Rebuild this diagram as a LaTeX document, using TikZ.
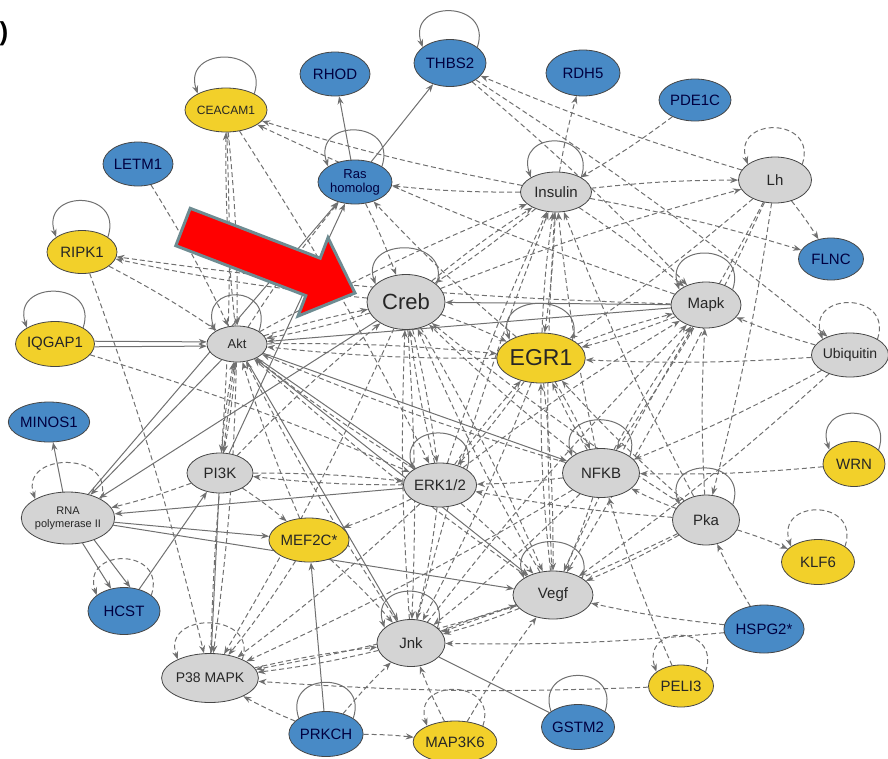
\documentclass[tikz,border=0pt]{standalone}
\usepackage{fontspec}
\setmainfont{Liberation Sans}
\usetikzlibrary{shapes.geometric,arrows.meta}
\pgfdeclarelayer{background}
\pgfsetlayers{background,main}
\definecolor{nodeblue}{RGB}{72,138,198}
\definecolor{nodeyellow}{RGB}{242,208,42}
\definecolor{nodegray}{RGB}{212,212,212}
\definecolor{edgegray}{RGB}{112,112,112}
\definecolor{arrowedge}{RGB}{110,140,146}
\tikzset{
  gene/.style={ellipse, draw=gray!55!black, line width=0.8pt, inner sep=0pt,
    minimum width=70pt, minimum height=44pt, font=\fontsize{15}{15}\selectfont, text=black!85},
  bluegene/.style={gene, fill=nodeblue, text=blue!25!black},
  yellowgene/.style={gene, fill=nodeyellow},
  graygene/.style={gene, fill=nodegray},
  act/.style={draw=edgegray, line width=1pt, -{Stealth[length=8pt,width=6pt]}},
  dep/.style={act, dash pattern=on 5pt off 3pt},
  plain/.style={draw=edgegray, line width=1pt},
  arrowbody/.style={fill=red, draw=arrowedge, line width=3pt, line join=miter}
}

\begin{document}
\begin{tikzpicture}[x=1pt,y=-1pt]
\useasboundingbox (0,0) rectangle (888,758);
\node[font=\bfseries\fontsize{26}{26}\selectfont] (mark) at (4,34) {)};

\node[yellowgene, minimum width=65pt, font=\fontsize{12}{12}\selectfont] (ceacam) at (226,110) {CEACAM1};
\node[bluegene] (rhod) at (335,74) {RHOD};
\node[bluegene, minimum width=72pt, minimum height=47pt] (thbs) at (450,63) {THBS2};
\node[bluegene, minimum width=74pt, minimum height=46pt] (rdh) at (583,73) {RDH5};
\node[bluegene, minimum width=72pt, minimum height=42pt] (pde) at (695,100) {PDE1C};
\node[bluegene] (letm) at (138,164) {LETM1};
\node[bluegene, minimum width=74pt, align=center, font=\fontsize{13}{14}\selectfont] (ras) at (355,182) {Ras\\homolog};
\node[graygene, minimum width=71pt, minimum height=40pt] (insulin) at (556,192) {Insulin};
\node[graygene, minimum width=73pt, minimum height=46pt] (lh) at (775,180) {Lh};
\node[bluegene, minimum width=65pt, minimum height=42pt] (flnc) at (831,259) {FLNC};
\node[yellowgene, minimum height=43pt] (ripk) at (82,252) {RIPK1};
\node[graygene, minimum width=78pt, minimum height=55pt, font=\fontsize{22}{22}\selectfont] (creb) at (406,302) {Creb};
\node[graygene, minimum height=46pt] (mapk) at (706,305) {Mapk};
\node[yellowgene, minimum width=74pt, minimum height=45pt] (iqgap) at (55,344) {IQGAP1};
\node[graygene, minimum width=60pt, minimum height=36pt, font=\fontsize{13}{13}\selectfont] (akt) at (237,344) {Akt};
\node[yellowgene, minimum width=85pt, minimum height=50pt, font=\fontsize{23}{23}\selectfont] (egr) at (541,358) {EGR1};
\node[graygene, minimum width=76pt, minimum height=44pt, font=\fontsize{14}{14}\selectfont] (ubq) at (850,355) {Ubiquitin};
\node[bluegene, minimum width=68pt, minimum height=40pt] (minos) at (49,422) {MINOS1};
\node[yellowgene, minimum width=62pt, minimum height=45pt] (wrn) at (854,464) {WRN};
\node[graygene, minimum width=66pt, minimum height=40pt] (pik) at (220,473) {PI3K};
\node[graygene, minimum width=66pt, minimum height=44pt] (erk) at (440,485) {ERK1/2};
\node[graygene, minimum width=77pt, minimum height=49pt] (nfkb) at (601,473) {NFKB};
\node[graygene, minimum width=87pt, minimum height=52pt, align=center, font=\fontsize{11}{13}\selectfont] (rnapol) at (68,518) {RNA\\polymerase II};
\node[graygene, minimum width=67pt, minimum height=50pt] (pka) at (706,520) {Pka};
\node[yellowgene, minimum width=65pt, minimum height=44pt] (mef) at (309,540) {MEF2C*};
\node[yellowgene, minimum width=73pt, minimum height=45pt] (klf) at (818,562) {KLF6};
\node[bluegene, minimum width=72pt, minimum height=47pt] (hcst) at (124,611) {HCST};
\node[graygene, minimum width=80pt, minimum height=48pt] (vegf) at (553,595) {Vegf};
\node[bluegene, minimum width=66pt, minimum height=48pt] (hspg) at (764,629) {HSPG2*};
\node[graygene, minimum width=68pt, minimum height=47pt] (jnk) at (411,643) {Jnk};
\node[graygene, minimum width=75pt, minimum height=49pt, font=\fontsize{14}{14}\selectfont] (pmapk) at (210,678) {P38 MAPK};
\node[yellowgene, minimum width=65pt, minimum height=42pt] (peli) at (681,686) {PELI3};
\node[bluegene, minimum width=72pt, minimum height=45pt] (prkch) at (326,734) {PRKCH};
\node[yellowgene, minimum width=70pt, minimum height=42pt] (mapkk) at (455,742) {MAP3K6};
\node[bluegene, minimum width=69pt, minimum height=45pt] (gstm) at (578,727) {GSTM2};

\begin{pgfonlayer}{background}
\foreach \a/\b in {insulin/ceacam, mapk/ceacam, ceacam/akt, akt/ceacam, ceacam/pik, ceacam/erk,
    letm/akt, insulin/ras, lh/thbs, thbs/mapk, thbs/ubq, insulin/rdh, pde/insulin, insulin/lh,
    insulin/flnc, lh/flnc, creb/lh, lh/pka, lh/vegf, lh/egr, lh/nfkb, ubq/egr, ubq/mapk, ubq/nfkb,
    ubq/vegf, insulin/mapk, insulin/creb, ras/creb, akt/ras, egr/ras,
    egr/insulin, nfkb/insulin, vegf/insulin, akt/insulin, creb/insulin, erk/insulin, jnk/insulin, pka/insulin,
    creb/egr, akt/egr, mapk/egr, erk/egr, nfkb/egr, pka/egr, vegf/egr, insulin/egr,
    pka/mapk, nfkb/mapk, erk/mapk, vegf/mapk, jnk/mapk, egr/mapk,
    akt/creb, erk/creb, nfkb/creb, pka/creb, pik/creb, jnk/creb, vegf/creb,
    creb/ripk, mapk/ripk, ripk/akt, ripk/pmapk, iqgap/erk,
    akt/pik, pik/akt, pmapk/akt, mef/akt, jnk/akt, erk/akt, vegf/akt, nfkb/akt, creb/akt, egr/akt,
    pik/rnapol, jnk/pmapk, erk/pmapk, mef/pmapk, vegf/pmapk, nfkb/pmapk, creb/pmapk, akt/pmapk,
    prkch/pmapk, peli/pmapk, prkch/jnk, prkch/mapkk, mapkk/jnk, mapkk/vegf,
    peli/nfkb, hspg/jnk, hspg/vegf, hspg/pka, pka/klf, wrn/nfkb,
    pka/nfkb, pka/vegf, pka/erk, pka/jnk, nfkb/vegf, nfkb/erk, nfkb/jnk,
    vegf/jnk, jnk/vegf, erk/vegf, erk/jnk, pik/erk, erk/pik, erk/mef, mef/jnk, pik/mef,
    creb/jnk, creb/vegf, creb/erk, egr/vegf, egr/nfkb, egr/jnk, egr/erk, pmapk/jnk}
  \draw[dep] (\a) to[bend left=3] (\b);
\foreach \a/\b in {ras/rhod, ras/thbs, mapk/creb, mapk/akt, rnapol/minos, hcst/pik, erk/rnapol,
    rnapol/mef, pik/pmapk, prkch/mef, akt/jnk, creb/rnapol, akt/rnapol, rnapol/vegf, akt/erk,
    akt/vegf, pik/ras, rnapol/ras, akt/nfkb}
  \draw[act] (\a) -- (\b);
\draw[act] (rnapol.-60) -- (hcst.120);
\draw[act] (rnapol.-40) -- (hcst.75);
\draw[act] (iqgap.4) -- (akt.176);
\draw[act] (iqgap.-4) -- (akt.184);
\draw[plain] (gstm) -- (jnk);
\foreach \n in {ceacam, thbs, ras, ripk, iqgap, insulin, creb, mapk, akt, egr, erk, nfkb, pka, wrn, jnk, vegf}
  \draw[act] (\n.30) .. controls +(16,-48) and +(-16,-48) .. (\n.150);
\foreach \n in {lh, ubq, rnapol, hcst, pmapk, klf, peli, mapkk}
  \draw[dep] (\n.30) .. controls +(16,-48) and +(-16,-48) .. (\n.150);
\foreach \n in {prkch, gstm}
  \draw[plain] (\n.30) .. controls +(16,-48) and +(-16,-48) .. (\n.150);
\end{pgfonlayer}

\draw[arrowbody] (190.2,208.3) -- (320.2,258.2) -- (328,237.7) -- (355,293)
  -- (298,316.1) -- (305.8,295.6) -- (175.8,245.7) -- cycle;
\end{tikzpicture}
\end{document}
